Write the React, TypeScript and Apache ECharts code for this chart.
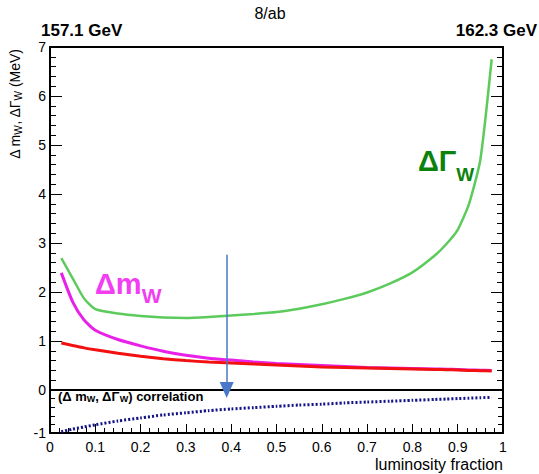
import React, { useEffect, useRef } from "react";
import * as echarts from "echarts";

// Luminosity fraction at which each scan point was evaluated
const lumiFraction = [
  0.025, 0.05, 0.075, 0.1, 0.15, 0.2, 0.25, 0.3, 0.35, 0.4, 0.45, 0.5, 0.55,
  0.6, 0.65, 0.7, 0.75, 0.8, 0.85, 0.875, 0.9, 0.925, 0.95, 0.975,
];

// Statistical uncertainty on the W width (MeV)
const deltaGammaW = [
  2.69, 2.28, 1.87, 1.65, 1.56, 1.51, 1.48, 1.47, 1.49, 1.52, 1.55, 1.59, 1.66,
  1.75, 1.86, 1.99, 2.17, 2.4, 2.75, 2.98, 3.27, 3.8, 4.7, 6.75,
];

// Statistical uncertainty on the W mass, both parameters free (MeV)
const deltaMW = [
  2.39, 1.8, 1.43, 1.22, 1.03, 0.9, 0.79, 0.71, 0.65, 0.61, 0.57, 0.54, 0.52,
  0.5, 0.48, 0.46, 0.45, 0.44, 0.43, 0.425, 0.42, 0.41, 0.405, 0.4,
];

// Statistical uncertainty on the W mass, width fixed (MeV)
const deltaMWFixed = [
  0.96, 0.91, 0.86, 0.82, 0.75, 0.69, 0.64, 0.6, 0.57, 0.55, 0.53, 0.51, 0.49,
  0.47, 0.46, 0.45, 0.44, 0.43, 0.42, 0.415, 0.41, 0.4, 0.395, 0.39,
];

// Correlation coefficient between the mass and width uncertainties
const correlation = [
  -0.97, -0.91, -0.86, -0.81, -0.72, -0.65, -0.58, -0.53, -0.48, -0.44, -0.41,
  -0.38, -0.35, -0.33, -0.3, -0.28, -0.26, -0.24, -0.22, -0.21, -0.2, -0.19,
  -0.18, -0.17,
];

// Optimal working point marked by the arrow
const arrowFraction = 0.39;
const arrowTop = 2.76;

const FONT = "'Liberation Sans', Arial, Helvetica, sans-serif";
const BLACK = "#000";

const W = 539;
const H = 474;
const LEFT = 50;
const RIGHT = 36;
const UPPER_TOP = 47;
const SPLIT_Y = 390;
const LOWER_BOTTOM = 433;

const pairs = (ys: number[]) => lumiFraction.map((x, i) => [x, ys[i]]);

// Frame edge with ticks pointing into the plot
function edge(major: number, minor: number) {
  return {
    axisLine: { show: true, onZero: false, lineStyle: { color: BLACK, width: 2 } },
    axisTick: { show: major > 0, inside: true, length: major, lineStyle: { color: BLACK, width: 1 } },
    minorTick: { show: minor > 0, splitNumber: 5, length: minor, lineStyle: { color: BLACK, width: 1 } },
    splitLine: { show: false },
    minorSplitLine: { show: false },
  };
}

export default function App() {
  const ref = useRef<HTMLDivElement>(null);

  useEffect(() => {
    if (!ref.current) return;
    const chart = echarts.init(ref.current, undefined, { renderer: "svg" });

    const labelStyle = { color: BLACK, fontSize: 14, fontFamily: FONT };
    const xRange = { type: "value", min: 0, max: 1, interval: 0.1 };
    const upperRange = { type: "value", gridIndex: 0, min: 0, max: 7, interval: 1 };
    const lowerRange = { type: "value", gridIndex: 1, min: -1, max: 0, interval: 1 };

    chart.setOption({
      animation: false,
      backgroundColor: "#fff",
      textStyle: { fontFamily: FONT },
      grid: [
        { left: LEFT, right: RIGHT, top: UPPER_TOP, bottom: H - SPLIT_Y },
        { left: LEFT, right: RIGHT, top: SPLIT_Y, bottom: H - LOWER_BOTTOM },
      ],
      xAxis: [
        { ...xRange, gridIndex: 0, position: "bottom", ...edge(0, 0), axisLabel: { show: false } },
        { ...xRange, gridIndex: 0, position: "top", ...edge(0, 0), axisLabel: { show: false } },
        {
          ...xRange,
          gridIndex: 1,
          position: "bottom",
          ...edge(9, 5),
          axisLabel: { ...labelStyle, margin: 7, formatter: (v: number) => String(Math.round(v * 10) / 10) },
        },
      ],
      yAxis: [
        { ...upperRange, position: "left", ...edge(12, 6), axisLabel: { ...labelStyle, margin: 4 } },
        { ...upperRange, position: "right", ...edge(12, 6), axisLabel: { show: false } },
        {
          ...lowerRange,
          position: "left",
          ...edge(9, 5),
          axisLabel: { ...labelStyle, margin: 4, formatter: (v: number) => (v === 0 ? "" : "-1") },
        },
        { ...lowerRange, position: "right", ...edge(9, 5), axisLabel: { show: false } },
      ],
      series: [
        {
          type: "line", name: "ΔΓW", xAxisIndex: 0, yAxisIndex: 0, data: pairs(deltaGammaW),
          showSymbol: false, smooth: 0.2, lineStyle: { color: "#5ccb5c", width: 2.5 },
          markLine: {
            silent: true,
            symbol: ["none", "triangle"],
            symbolSize: [14, 16],
            label: { show: false },
            lineStyle: { color: "#4a78c8", width: 1.5, type: "solid" },
            data: [[{ coord: [arrowFraction, arrowTop] }, { coord: [arrowFraction, 0] }]],
          },
        },
        {
          type: "line", name: "ΔmW", xAxisIndex: 0, yAxisIndex: 0, data: pairs(deltaMW),
          showSymbol: false, smooth: 0.2, lineStyle: { color: "#e820e8", width: 3 },
        },
        {
          type: "line", name: "ΔmW fixed ΓW", xAxisIndex: 0, yAxisIndex: 0, data: pairs(deltaMWFixed),
          showSymbol: false, smooth: 0.2, lineStyle: { color: "#f21010", width: 3 },
        },
        {
          type: "line", name: "correlation", xAxisIndex: 2, yAxisIndex: 2, data: pairs(correlation),
          showSymbol: false, smooth: 0.2, lineStyle: { color: "#141488", width: 3, type: [2, 2] },
        },
      ],
      graphic: [
        { type: "text", x: 270, y: 13, style: { text: "8/ab", font: `16px ${FONT}`, fill: BLACK, align: "center", verticalAlign: "middle" } },
        { type: "text", x: 41, y: 30, style: { text: "157.1 GeV", font: `bold 17px ${FONT}`, fill: BLACK, align: "left", verticalAlign: "middle" } },
        { type: "text", x: 537, y: 30, style: { text: "162.3 GeV", font: `bold 17px ${FONT}`, fill: BLACK, align: "right", verticalAlign: "middle" } },
        {
          type: "text", x: 15, y: 49, rotation: Math.PI / 2,
          style: {
            text: "{t|Δ m}{s|W}{t|, ΔΓ}{s|W}{t| (MeV)}", align: "right", verticalAlign: "middle",
            rich: {
              t: { fontSize: 14, fontFamily: FONT, fill: BLACK },
              s: { fontSize: 10, fontFamily: FONT, fill: BLACK, padding: [6, 0, 0, 0] },
            },
          },
        },
        { type: "text", x: 503, y: 464, style: { text: "luminosity fraction", font: `16px ${FONT}`, fill: BLACK, align: "right", verticalAlign: "middle" } },
        {
          type: "text", x: 58, y: 396,
          style: {
            text: "{t|(Δ m}{s|W}{t|, ΔΓ}{s|W}{t|) correlation}", align: "left", verticalAlign: "middle",
            rich: {
              t: { fontSize: 13, fontWeight: "bold", fontFamily: FONT, fill: BLACK },
              s: { fontSize: 9, fontWeight: "bold", fontFamily: FONT, fill: BLACK, padding: [6, 0, 0, 0] },
            },
          },
        },
        {
          type: "text", x: 95, y: 284,
          style: {
            text: "{t|Δm}{s|W}", align: "left", verticalAlign: "middle",
            rich: {
              t: { fontSize: 29, fontWeight: "bold", fontFamily: FONT, fill: "#f23ef2" },
              s: { fontSize: 21, fontWeight: "bold", fontFamily: FONT, fill: "#f23ef2", padding: [22, 0, 0, 0] },
            },
          },
        },
        {
          type: "text", x: 418, y: 161,
          style: {
            text: "{t|ΔΓ}{s|W}", align: "left", verticalAlign: "middle",
            rich: {
              t: { fontSize: 29, fontWeight: "bold", fontFamily: FONT, fill: "#0b820b" },
              s: { fontSize: 19, fontWeight: "bold", fontFamily: FONT, fill: "#0b820b", padding: [26, 0, 0, 0] },
            },
          },
        },
      ],
    });

    return () => chart.dispose();
  }, []);

  return <div ref={ref} style={{ position: "fixed", left: 0, top: 0, width: W, height: H }} />;
}
